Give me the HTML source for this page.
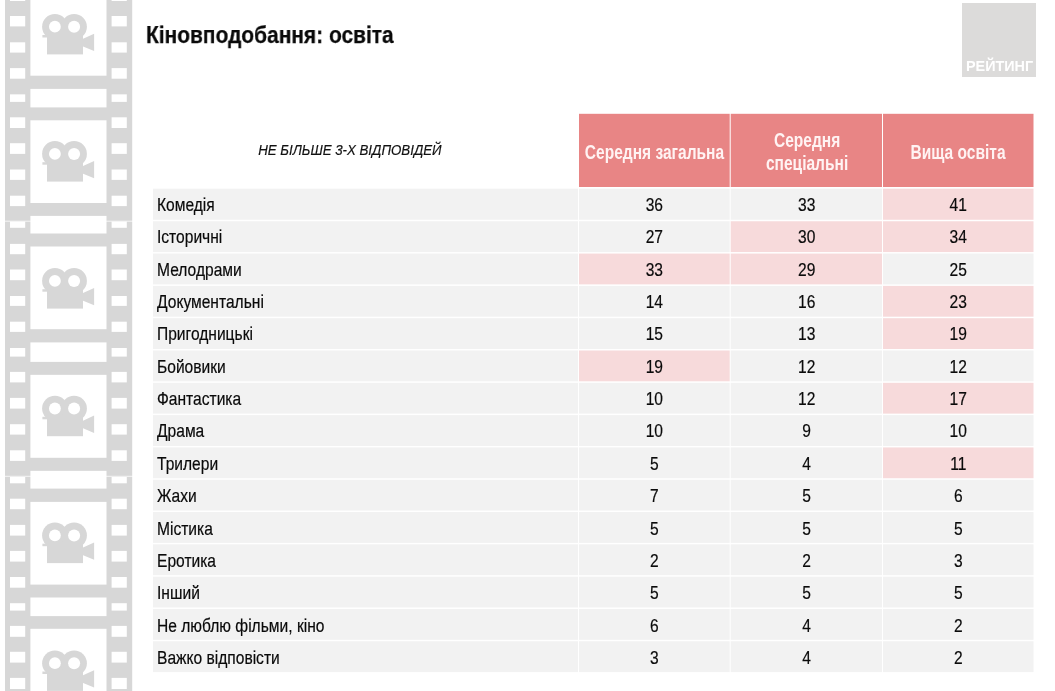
<!DOCTYPE html>
<html lang="uk">
<head>
<meta charset="utf-8">
<title>Кіновподобання: освіта</title>
<style>
html,body{margin:0;padding:0;background:#fff;}
body{width:1055px;height:691px;position:relative;overflow:hidden;font-family:"Liberation Sans",sans-serif;color:#111;}
.strip,.tbg{position:absolute;left:0;top:0;}
.title,.logo,.note,.th,.row{will-change:transform;}
.title{position:absolute;left:145.9px;top:20px;font-size:24.6px;line-height:30px;font-weight:bold;white-space:nowrap;transform:scaleX(.851);transform-origin:0 50%;color:#0a0a0a;-webkit-text-stroke:.25px #0a0a0a;}
.logo{position:absolute;left:962px;top:2.5px;width:73.5px;height:73.5px;background:#dcdbda;}
.logo span{position:absolute;left:4.2px;bottom:2.5px;transform:scaleX(1.026);transform-origin:0 50%;font-size:14px;line-height:16px;font-weight:bold;color:#fff;white-space:nowrap;}
.note{position:absolute;left:153px;top:140px;width:392.9px;text-align:center;font-size:15.2px;line-height:20px;font-style:italic;white-space:nowrap;color:#111;-webkit-text-stroke:.2px #111;}
.note span{display:inline-block;transform:scaleX(.874);}
.th{position:absolute;top:113.7px;height:73.6px;color:#fff3f3;font-weight:bold;font-size:19.3px;line-height:23.2px;padding-top:3px;box-sizing:border-box;display:flex;align-items:center;justify-content:center;text-align:center;}
.th span{display:inline-block;transform:scaleX(.806);white-space:nowrap;}
.row{position:absolute;left:0;width:1055px;height:31px;font-size:18.67px;line-height:31px;white-space:nowrap;color:#0a0a0a;-webkit-text-stroke:.2px #0a0a0a;}
.row span{position:absolute;top:0;height:31px;transform:scaleX(.835);}
.lab{left:157.2px;transform-origin:0 50%;}
.n{text-align:center;}
.n1,.h1{left:579px;width:150.7px;}
.n2,.h2{left:730.7px;width:151.3px;}
.n3,.h3{left:883px;width:150.5px;}
</style>
</head>
<body>
<svg class="strip" width="140" height="691" viewBox="0 0 140 691">
<rect x="5" y="-10" width="127.2" height="720" fill="#d7d7d7"/>
<g fill="#fff">
<rect x="30.4" y="-8.5" width="76.1" height="84.2"/>
<rect x="30.4" y="120.3" width="76.1" height="82.7"/>
<rect x="30.4" y="246.5" width="76.1" height="82.7"/>
<rect x="30.4" y="374.85" width="76.1" height="82.95"/>
<rect x="30.4" y="501.9" width="76.1" height="82.7"/>
<rect x="30.4" y="628.8" width="76.1" height="76.2"/>
<rect x="30.4" y="88.9" width="76.1" height="18.5"/>
<rect x="30.4" y="215.9" width="76.1" height="17.6"/>
<rect x="30.4" y="342.4" width="76.1" height="19.5"/>
<rect x="30.4" y="470.85" width="76.1" height="17.75"/>
<rect x="30.4" y="597.5" width="76.1" height="18.6"/>
<rect x="10" y="-10" width="15.2" height="11"/>
<rect x="111.6" y="-10" width="15.2" height="11"/>
<rect x="10" y="16" width="15.2" height="10.4"/>
<rect x="111.6" y="16" width="15.2" height="10.4"/>
<rect x="10" y="42.3" width="15.2" height="10.3"/>
<rect x="111.6" y="42.3" width="15.2" height="10.3"/>
<rect x="10" y="68.1" width="15.2" height="10.6"/>
<rect x="111.6" y="68.1" width="15.2" height="10.6"/>
<rect x="10" y="94.35" width="15.2" height="7.55"/>
<rect x="111.6" y="94.35" width="15.2" height="7.55"/>
<rect x="10" y="117.3" width="15.2" height="10.7"/>
<rect x="111.6" y="117.3" width="15.2" height="10.7"/>
<rect x="10" y="143.2" width="15.2" height="10.7"/>
<rect x="111.6" y="143.2" width="15.2" height="10.7"/>
<rect x="10" y="169.5" width="15.2" height="10.4"/>
<rect x="111.6" y="169.5" width="15.2" height="10.4"/>
<rect x="10" y="195.7" width="15.2" height="10.4"/>
<rect x="111.6" y="195.7" width="15.2" height="10.4"/>
<rect x="10" y="221.5" width="15.2" height="6.3"/>
<rect x="111.6" y="221.5" width="15.2" height="6.3"/>
<rect x="10" y="243.9" width="15.2" height="10.3"/>
<rect x="111.6" y="243.9" width="15.2" height="10.3"/>
<rect x="10" y="269.5" width="15.2" height="10.7"/>
<rect x="111.6" y="269.5" width="15.2" height="10.7"/>
<rect x="10" y="296" width="15.2" height="9.9"/>
<rect x="111.6" y="296" width="15.2" height="9.9"/>
<rect x="10" y="321.7" width="15.2" height="10.2"/>
<rect x="111.6" y="321.7" width="15.2" height="10.2"/>
<rect x="10" y="348" width="15.2" height="8.6"/>
<rect x="111.6" y="348" width="15.2" height="8.6"/>
<rect x="10" y="371.9" width="15.2" height="10.5"/>
<rect x="111.6" y="371.9" width="15.2" height="10.5"/>
<rect x="10" y="397.9" width="15.2" height="10.7"/>
<rect x="111.6" y="397.9" width="15.2" height="10.7"/>
<rect x="10" y="424.2" width="15.2" height="10.4"/>
<rect x="111.6" y="424.2" width="15.2" height="10.4"/>
<rect x="10" y="450.3" width="15.2" height="10.6"/>
<rect x="111.6" y="450.3" width="15.2" height="10.6"/>
<rect x="10" y="477" width="15.2" height="6.3"/>
<rect x="111.6" y="477" width="15.2" height="6.3"/>
<rect x="10" y="498.7" width="15.2" height="10.5"/>
<rect x="111.6" y="498.7" width="15.2" height="10.5"/>
<rect x="10" y="524.9" width="15.2" height="10.7"/>
<rect x="111.6" y="524.9" width="15.2" height="10.7"/>
<rect x="10" y="550.9" width="15.2" height="10.7"/>
<rect x="111.6" y="550.9" width="15.2" height="10.7"/>
<rect x="10" y="577" width="15.2" height="10.7"/>
<rect x="111.6" y="577" width="15.2" height="10.7"/>
<rect x="10" y="603.2" width="15.2" height="7.4"/>
<rect x="111.6" y="603.2" width="15.2" height="7.4"/>
<rect x="10" y="625.9" width="15.2" height="10.9"/>
<rect x="111.6" y="625.9" width="15.2" height="10.9"/>
<rect x="10" y="651.8" width="15.2" height="10.8"/>
<rect x="111.6" y="651.8" width="15.2" height="10.8"/>
<rect x="10" y="677.9" width="15.2" height="11.1"/>
<rect x="111.6" y="677.9" width="15.2" height="11.1"/>
</g>
<g fill="#d7d7d7"><circle cx="54.9" cy="26.7" r="12.8"/><circle cx="74.1" cy="26.7" r="12.8"/><rect x="47" y="34.2" width="36" height="20.2"/><rect x="42.4" y="35" width="5" height="2.5"/><polygon points="82.5,39.1 94.1,33.8 94.1,51.1 82.5,46.2"/></g><circle cx="54.9" cy="26.7" r="5.9" fill="#fff"/><circle cx="74.1" cy="26.7" r="6" fill="#fff"/>
<g fill="#d7d7d7"><circle cx="54.9" cy="153.9" r="12.8"/><circle cx="74.1" cy="153.9" r="12.8"/><rect x="47" y="161.4" width="36" height="20.2"/><rect x="42.4" y="162.2" width="5" height="2.5"/><polygon points="82.5,166.3 94.1,161 94.1,178.3 82.5,173.4"/></g><circle cx="54.9" cy="153.9" r="5.9" fill="#fff"/><circle cx="74.1" cy="153.9" r="6" fill="#fff"/>
<g fill="#d7d7d7"><circle cx="54.9" cy="280.9" r="12.8"/><circle cx="74.1" cy="280.9" r="12.8"/><rect x="47" y="288.4" width="36" height="20.2"/><rect x="42.4" y="289.2" width="5" height="2.5"/><polygon points="82.5,293.3 94.1,288 94.1,305.3 82.5,300.4"/></g><circle cx="54.9" cy="280.9" r="5.9" fill="#fff"/><circle cx="74.1" cy="280.9" r="6" fill="#fff"/>
<g fill="#d7d7d7"><circle cx="54.9" cy="408.5" r="12.8"/><circle cx="74.1" cy="408.5" r="12.8"/><rect x="47" y="416" width="36" height="20.2"/><rect x="42.4" y="416.8" width="5" height="2.5"/><polygon points="82.5,420.9 94.1,415.6 94.1,432.9 82.5,428"/></g><circle cx="54.9" cy="408.5" r="5.9" fill="#fff"/><circle cx="74.1" cy="408.5" r="6" fill="#fff"/>
<g fill="#d7d7d7"><circle cx="54.9" cy="535.4" r="12.8"/><circle cx="74.1" cy="535.4" r="12.8"/><rect x="47" y="542.9" width="36" height="20.2"/><rect x="42.4" y="543.7" width="5" height="2.5"/><polygon points="82.5,547.8 94.1,542.5 94.1,559.8 82.5,554.9"/></g><circle cx="54.9" cy="535.4" r="5.9" fill="#fff"/><circle cx="74.1" cy="535.4" r="6" fill="#fff"/>
<g fill="#d7d7d7"><circle cx="54.9" cy="663.2" r="12.8"/><circle cx="74.1" cy="663.2" r="12.8"/><rect x="47" y="670.7" width="36" height="20.2"/><rect x="42.4" y="671.5" width="5" height="2.5"/><polygon points="82.5,675.6 94.1,670.3 94.1,687.6 82.5,682.7"/></g><circle cx="54.9" cy="663.2" r="5.9" fill="#fff"/><circle cx="74.1" cy="663.2" r="6" fill="#fff"/>
<rect x="0" y="220.7" width="140" height="1" fill="#fff" opacity="0.75"/>
<rect x="0" y="475.8" width="140" height="1" fill="#fff" opacity="0.75"/>
</svg>
<svg class="tbg" width="1055" height="691" viewBox="0 0 1055 691">
<rect x="579" y="113.8" width="150.7" height="73.2" fill="#e88585"/>
<rect x="730.7" y="113.8" width="151.3" height="73.2" fill="#e88585"/>
<rect x="883" y="113.8" width="150.5" height="73.2" fill="#e88585"/>
<rect x="153" y="188.7" width="425" height="31.06" fill="#f2f2f2"/>
<rect x="579" y="188.7" width="150.7" height="31.06" fill="#f2f2f2"/>
<rect x="730.7" y="188.7" width="151.3" height="31.06" fill="#f2f2f2"/>
<rect x="883" y="188.7" width="150.5" height="31.06" fill="#f7dadb"/>
<rect x="153" y="221.26" width="425" height="30.81" fill="#f2f2f2"/>
<rect x="579" y="221.26" width="150.7" height="30.81" fill="#f2f2f2"/>
<rect x="730.7" y="221.26" width="151.3" height="30.81" fill="#f7dadb"/>
<rect x="883" y="221.26" width="150.5" height="30.81" fill="#f7dadb"/>
<rect x="153" y="253.57" width="425" height="30.81" fill="#f2f2f2"/>
<rect x="579" y="253.57" width="150.7" height="30.81" fill="#f7dadb"/>
<rect x="730.7" y="253.57" width="151.3" height="30.81" fill="#f7dadb"/>
<rect x="883" y="253.57" width="150.5" height="30.81" fill="#f2f2f2"/>
<rect x="153" y="285.88" width="425" height="30.81" fill="#f2f2f2"/>
<rect x="579" y="285.88" width="150.7" height="30.81" fill="#f2f2f2"/>
<rect x="730.7" y="285.88" width="151.3" height="30.81" fill="#f2f2f2"/>
<rect x="883" y="285.88" width="150.5" height="30.81" fill="#f7dadb"/>
<rect x="153" y="318.19" width="425" height="30.81" fill="#f2f2f2"/>
<rect x="579" y="318.19" width="150.7" height="30.81" fill="#f2f2f2"/>
<rect x="730.7" y="318.19" width="151.3" height="30.81" fill="#f2f2f2"/>
<rect x="883" y="318.19" width="150.5" height="30.81" fill="#f7dadb"/>
<rect x="153" y="350.5" width="425" height="30.81" fill="#f2f2f2"/>
<rect x="579" y="350.5" width="150.7" height="30.81" fill="#f7dadb"/>
<rect x="730.7" y="350.5" width="151.3" height="30.81" fill="#f2f2f2"/>
<rect x="883" y="350.5" width="150.5" height="30.81" fill="#f2f2f2"/>
<rect x="153" y="382.81" width="425" height="30.81" fill="#f2f2f2"/>
<rect x="579" y="382.81" width="150.7" height="30.81" fill="#f2f2f2"/>
<rect x="730.7" y="382.81" width="151.3" height="30.81" fill="#f2f2f2"/>
<rect x="883" y="382.81" width="150.5" height="30.81" fill="#f7dadb"/>
<rect x="153" y="415.12" width="425" height="30.81" fill="#f2f2f2"/>
<rect x="579" y="415.12" width="150.7" height="30.81" fill="#f2f2f2"/>
<rect x="730.7" y="415.12" width="151.3" height="30.81" fill="#f2f2f2"/>
<rect x="883" y="415.12" width="150.5" height="30.81" fill="#f2f2f2"/>
<rect x="153" y="447.43" width="425" height="30.81" fill="#f2f2f2"/>
<rect x="579" y="447.43" width="150.7" height="30.81" fill="#f2f2f2"/>
<rect x="730.7" y="447.43" width="151.3" height="30.81" fill="#f2f2f2"/>
<rect x="883" y="447.43" width="150.5" height="30.81" fill="#f7dadb"/>
<rect x="153" y="479.74" width="425" height="30.81" fill="#f2f2f2"/>
<rect x="579" y="479.74" width="150.7" height="30.81" fill="#f2f2f2"/>
<rect x="730.7" y="479.74" width="151.3" height="30.81" fill="#f2f2f2"/>
<rect x="883" y="479.74" width="150.5" height="30.81" fill="#f2f2f2"/>
<rect x="153" y="512.05" width="425" height="30.81" fill="#f2f2f2"/>
<rect x="579" y="512.05" width="150.7" height="30.81" fill="#f2f2f2"/>
<rect x="730.7" y="512.05" width="151.3" height="30.81" fill="#f2f2f2"/>
<rect x="883" y="512.05" width="150.5" height="30.81" fill="#f2f2f2"/>
<rect x="153" y="544.36" width="425" height="30.81" fill="#f2f2f2"/>
<rect x="579" y="544.36" width="150.7" height="30.81" fill="#f2f2f2"/>
<rect x="730.7" y="544.36" width="151.3" height="30.81" fill="#f2f2f2"/>
<rect x="883" y="544.36" width="150.5" height="30.81" fill="#f2f2f2"/>
<rect x="153" y="576.67" width="425" height="30.81" fill="#f2f2f2"/>
<rect x="579" y="576.67" width="150.7" height="30.81" fill="#f2f2f2"/>
<rect x="730.7" y="576.67" width="151.3" height="30.81" fill="#f2f2f2"/>
<rect x="883" y="576.67" width="150.5" height="30.81" fill="#f2f2f2"/>
<rect x="153" y="608.98" width="425" height="30.81" fill="#f2f2f2"/>
<rect x="579" y="608.98" width="150.7" height="30.81" fill="#f2f2f2"/>
<rect x="730.7" y="608.98" width="151.3" height="30.81" fill="#f2f2f2"/>
<rect x="883" y="608.98" width="150.5" height="30.81" fill="#f2f2f2"/>
<rect x="153" y="641.29" width="425" height="30.81" fill="#f2f2f2"/>
<rect x="579" y="641.29" width="150.7" height="30.81" fill="#f2f2f2"/>
<rect x="730.7" y="641.29" width="151.3" height="30.81" fill="#f2f2f2"/>
<rect x="883" y="641.29" width="150.5" height="30.81" fill="#f2f2f2"/>
</svg>
<div class="title">Кіновподобання: освіта</div>
<div class="logo"><span>РЕЙТИНГ</span></div>
<div class="note"><span>НЕ БІЛЬШЕ 3-Х ВІДПОВІДЕЙ</span></div>
<div class="th h1"><span>Середня загальна</span></div>
<div class="th h2"><span>Середня<br>спеціальні</span></div>
<div class="th h3"><span>Вища освіта</span></div>
<div class="row" style="top:189px"><span class="lab">Комедія</span><span class="n n1">36</span><span class="n n2">33</span><span class="n n3">41</span></div>
<div class="row" style="top:221px"><span class="lab">Історичні</span><span class="n n1">27</span><span class="n n2">30</span><span class="n n3">34</span></div>
<div class="row" style="top:254px"><span class="lab">Мелодрами</span><span class="n n1">33</span><span class="n n2">29</span><span class="n n3">25</span></div>
<div class="row" style="top:286px"><span class="lab">Документальні</span><span class="n n1">14</span><span class="n n2">16</span><span class="n n3">23</span></div>
<div class="row" style="top:318px"><span class="lab">Пригодницькі</span><span class="n n1">15</span><span class="n n2">13</span><span class="n n3">19</span></div>
<div class="row" style="top:351px"><span class="lab">Бойовики</span><span class="n n1">19</span><span class="n n2">12</span><span class="n n3">12</span></div>
<div class="row" style="top:383px"><span class="lab">Фантастика</span><span class="n n1">10</span><span class="n n2">12</span><span class="n n3">17</span></div>
<div class="row" style="top:415px"><span class="lab">Драма</span><span class="n n1">10</span><span class="n n2">9</span><span class="n n3">10</span></div>
<div class="row" style="top:448px"><span class="lab">Трилери</span><span class="n n1">5</span><span class="n n2">4</span><span class="n n3">11</span></div>
<div class="row" style="top:480px"><span class="lab">Жахи</span><span class="n n1">7</span><span class="n n2">5</span><span class="n n3">6</span></div>
<div class="row" style="top:513px"><span class="lab">Містика</span><span class="n n1">5</span><span class="n n2">5</span><span class="n n3">5</span></div>
<div class="row" style="top:545px"><span class="lab">Еротика</span><span class="n n1">2</span><span class="n n2">2</span><span class="n n3">3</span></div>
<div class="row" style="top:577px"><span class="lab">Інший</span><span class="n n1">5</span><span class="n n2">5</span><span class="n n3">5</span></div>
<div class="row" style="top:610px"><span class="lab">Не люблю фільми, кіно</span><span class="n n1">6</span><span class="n n2">4</span><span class="n n3">2</span></div>
<div class="row" style="top:642px"><span class="lab">Важко відповісти</span><span class="n n1">3</span><span class="n n2">4</span><span class="n n3">2</span></div>
</body>
</html>
